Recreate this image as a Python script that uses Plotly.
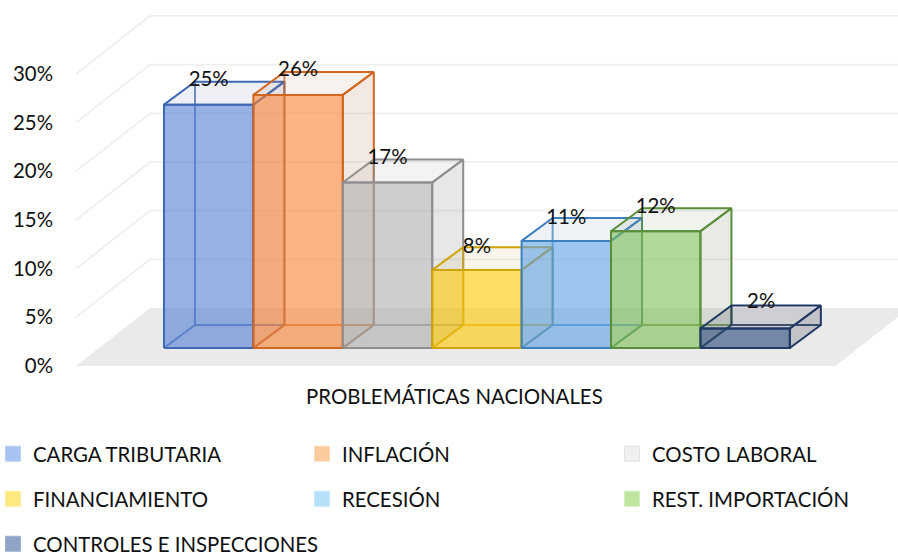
import plotly.graph_objects as go

# ---- data ----
categories = ["CARGA TRIBUTARIA", "INFLACIÓN", "COSTO LABORAL", "FINANCIAMIENTO",
              "RECESIÓN", "REST. IMPORTACIÓN", "CONTROLES E INSPECCIONES"]
values = [25, 26, 17, 8, 11, 12, 2]
tick_values = [0, 5, 10, 15, 20, 25, 30]
tick_labels = ["0%", "5%", "10%", "15%", "20%", "25%", "30%"]
axis_title = "PROBLEMÁTICAS NACIONALES"

# ---- styles ----
front_colors = ["rgba(80,125,210,0.60)", "rgba(252,130,50,0.60)", "rgba(165,165,165,0.55)",
                "rgba(255,200,0,0.60)", "rgba(90,160,230,0.60)", "rgba(125,190,85,0.60)",
                "rgba(38,68,120,0.60)"]
line_colors = ["#3F68B2", "#D2661F", "#8E8E8E", "#CFA300", "#3E80BD", "#5A8E38", "#203864"]
back_colors = ["rgba(63,104,178,0.75)", "rgba(210,102,31,0.75)", "rgba(142,142,142,0.75)",
               "rgba(207,163,0,0.75)", "rgba(62,128,189,0.75)", "rgba(90,142,56,0.75)",
               "rgba(32,56,100,0.85)"]
top_colors = ["rgba(110,125,170,0.12)", "rgba(190,130,90,0.10)", "rgba(140,140,140,0.10)",
              "rgba(210,170,80,0.12)", "rgba(110,150,190,0.12)", "rgba(130,150,110,0.12)",
              "rgba(60,70,90,0.16)"]
side_colors = ["rgba(110,125,170,0.15)", "rgba(170,100,60,0.14)", "rgba(120,120,120,0.18)",
               "rgba(210,170,80,0.15)", "rgba(110,150,190,0.15)", "rgba(110,130,90,0.16)",
               "rgba(50,60,80,0.22)"]
legend_colors = ["#A6C3F2", "#FBCB9E", "#EFEFEF", "#FFE97F", "#B5E0FA", "#C0E59F", "#8EA3C6"]
legend_borders = ["#B9D0F5", "#FDD9B8", "#E3E3E3", "#FFF0A0", "#C8E8FB", "#D2EDB8", "#9FB1CE"]

FONT = "Lato"
FONT_SIZE = 20.4
TEXT = "#111111"
WIDTH, HEIGHT = 898, 553
PLOT_LEFT, PLOT_BOTTOM = 60, 375   # in window pixels
BASE = 1.85             # raise of the bars' front edge above the 0 line
DX, DY = 0.347, 2.36    # bar depth in axis units
WALL_DX, WALL_DY = 0.828, 5.96
FLOOR_L, FLOOR_R = -0.984, 7.51

fig = go.Figure()


def poly(xs, ys, fill=None, line=None, width=2):
    fig.add_trace(go.Scatter(
        x=xs, y=ys, mode="lines", showlegend=False, hoverinfo="skip",
        fill="toself" if fill else None, fillcolor=fill,
        line=dict(color=line or "rgba(0,0,0,0)", width=width if line else 0),
    ))


# floor
poly([FLOOR_L, FLOOR_R, FLOOR_R + WALL_DX, FLOOR_L + WALL_DX, FLOOR_L],
     [0, 0, WALL_DY, WALL_DY, 0], fill="#EAEAEA")

# wall gridlines
for t in tick_values[1:]:
    poly([FLOOR_L, FLOOR_L + WALL_DX, FLOOR_R + WALL_DX],
         [t, t + WALL_DY, t + WALL_DY], line="#EFEFEF", width=1.8)

# bars
for i, v in enumerate(values):
    x0, x1 = i, i + 1
    b, t = BASE, BASE + v
    # hidden edges
    fig.add_trace(go.Scatter(
        x=[x0 + DX, x0 + DX, None, x0, x0 + DX, x1 + DX], y=[t + DY, b + DY, None, b, b + DY, b + DY],
        mode="lines", showlegend=False, hoverinfo="skip", line=dict(color=back_colors[i], width=2)))
    # top and side faces
    poly([x0, x1, x1 + DX, x0 + DX, x0], [t, t, t + DY, t + DY, t], fill=top_colors[i], line=line_colors[i])
    poly([x1, x1 + DX, x1 + DX, x1, x1], [b, b + DY, t + DY, t, b], fill=side_colors[i], line=line_colors[i])
    # front face
    poly([x0, x1, x1, x0, x0], [b, b, t, t, b], fill=front_colors[i], line=line_colors[i])

# data labels
label_dx = [0, 0, 0, 0, 0, 0, 0.18]
label_dy = [0.1, 0.1, 0.1, -0.1, -0.1, 0, 0.3]
fig.add_trace(go.Scatter(
    x=[i + 0.5 + label_dx[i] for i in range(len(values))],
    y=[BASE + v + DY + label_dy[i] for i, v in enumerate(values)],
    mode="text", text=[f"{v}%" for v in values], textposition="middle center",
    textfont=dict(family=FONT, size=FONT_SIZE, color=TEXT),
    showlegend=False, hoverinfo="skip",
))

# legend: one small legend per entry so the three-column grid can be placed freely
PLOT_W = WIDTH - PLOT_LEFT
PLOT_H = PLOT_BOTTOM
legend_left = [-7, 302, 612, -7, 302, 612, -7]
legend_mid = [454, 454, 454, 499, 499, 499, 544]
legends = {}
for i, c in enumerate(categories):
    key = "legend" if i == 0 else f"legend{i + 1}"
    fig.add_trace(go.Scatter(
        x=[None], y=[None], mode="markers", name=c, legend=key,
        marker=dict(symbol="square", size=15, color=legend_colors[i],
                    line=dict(color=legend_borders[i], width=1)),
    ))
    legends[key] = dict(x=(legend_left[i] - PLOT_LEFT) / PLOT_W, y=1 - legend_mid[i] / PLOT_H,
                        xanchor="left", yanchor="middle", bgcolor="rgba(0,0,0,0)",
                        font=dict(family=FONT, size=FONT_SIZE, color=TEXT),
                        itemclick=False, itemdoubleclick=False)

fig.update_layout(
    width=WIDTH, height=HEIGHT, autosize=False,
    margin=dict(l=PLOT_LEFT, r=0, t=0, b=HEIGHT - PLOT_BOTTOM, autoexpand=False),
    paper_bgcolor="white", plot_bgcolor="white",
    xaxis=dict(range=[-1.163, 8.21], visible=False, fixedrange=True),
    yaxis=dict(range=[-0.925, 37.6], tickvals=tick_values, ticktext=tick_labels, tickmode="array",
               showgrid=False, zeroline=False, showline=False, ticks="",
               ticklabelstandoff=6, fixedrange=True, automargin=False,
               tickfont=dict(family=FONT, size=FONT_SIZE, color=TEXT)),
    annotations=[dict(text=axis_title, xref="paper", yref="paper", showarrow=False,
                      x=(454 - PLOT_LEFT) / PLOT_W, y=1 - 396 / PLOT_H, xanchor="center", yanchor="middle",
                      font=dict(family=FONT, size=FONT_SIZE, color=TEXT))],
    **legends,
)
fig.write_html("out.html", default_width=f"{WIDTH}px", default_height=f"{HEIGHT}px",
               config={"displayModeBar": False},
               post_script="document.body.style.margin='0';document.documentElement.style.overflow='hidden';")
